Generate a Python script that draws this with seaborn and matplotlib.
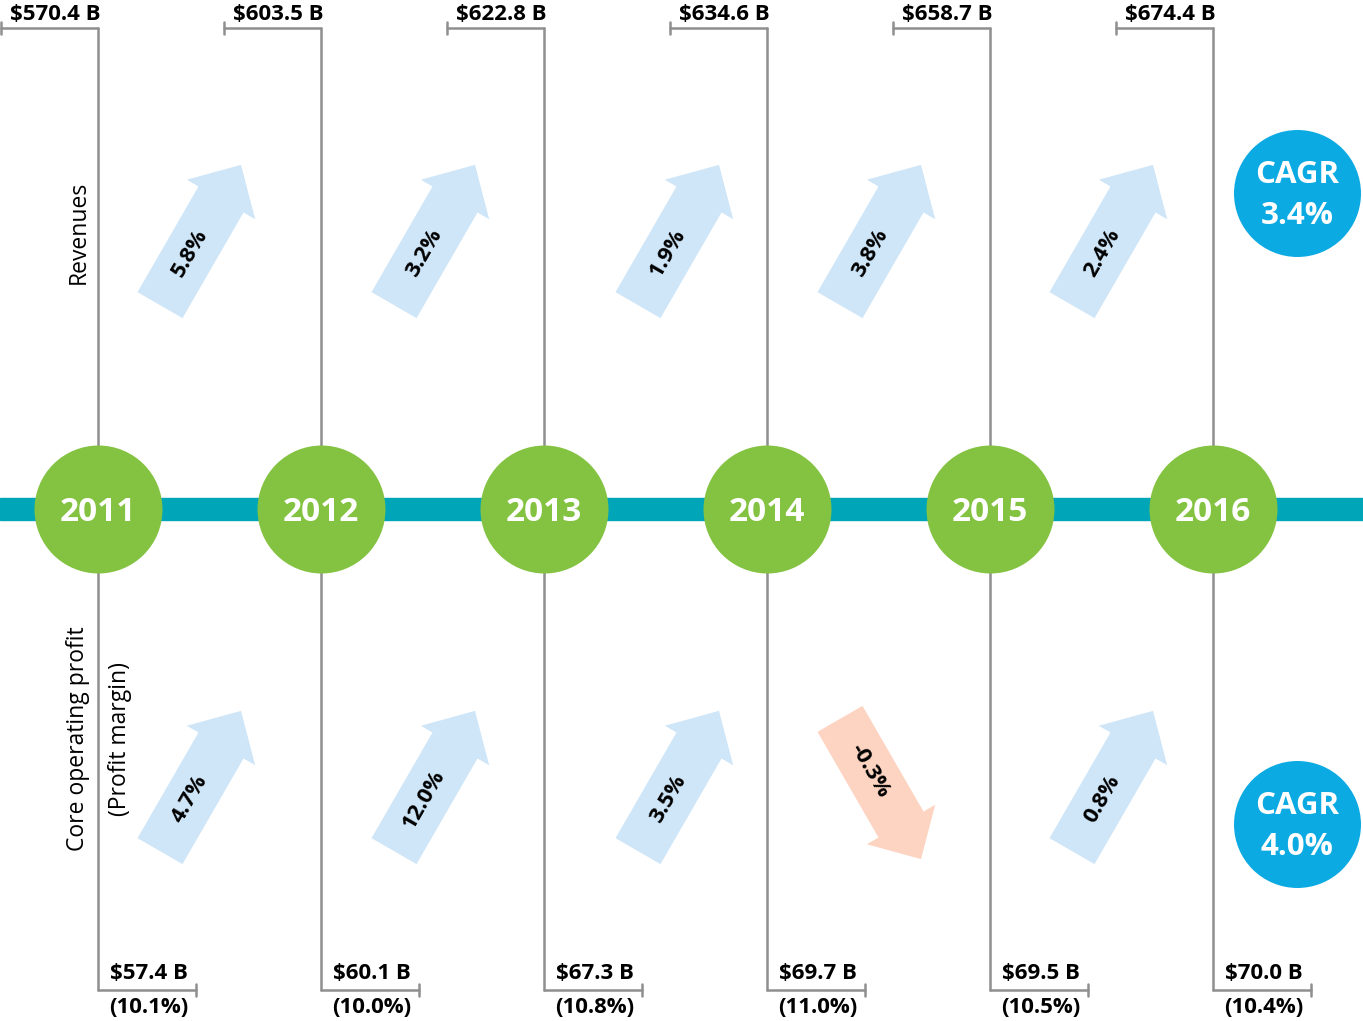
import matplotlib
matplotlib.use("Agg")
import matplotlib.pyplot as plt
from matplotlib.patches import FancyArrow
import numpy as np
import pandas as pd
import seaborn as sns

years = [2011, 2012, 2013, 2014, 2015, 2016]
revenue = [570.4, 603.5, 622.8, 634.6, 658.7, 674.4]
rev_growth = [5.8, 3.2, 1.9, 3.8, 2.4]
profit = [57.4, 60.1, 67.3, 69.7, 69.5, 70.0]
margin = [10.1, 10.0, 10.8, 11.0, 10.5, 10.4]
profit_growth = [4.7, 12.0, 3.5, -0.3, 0.8]
cagr_rev = 3.4
cagr_profit = 4.0

# layout (pixel coords)
W, H = 1363, 1021
x0, step, y_mid = 98, 223, 509
arrow_cx = [200.5, 434.5, 678.5, 880.5, 1112.5]

green = "#84C341"
teal = "#00A6B8"
blue = "#0BAAE3"
gray = "#8F8F8F"
up_col = "#CFE6F8"
down_col = "#FDD4C2"

sns.set_theme(style="white")
plt.rcParams["font.family"] = ["Open Sans", "DejaVu Sans"]
plt.rcParams["text.color"] = "black"

fig = plt.figure(figsize=(W / 100, H / 100), dpi=100)
ax = fig.add_axes([0, 0, 1, 1])

df = pd.DataFrame({"year": years, "revenue": revenue, "profit": profit, "margin": margin})
df["x"] = x0 + step * np.arange(len(df))
df["y"] = y_mid

# timeline bar
ax.axhspan(498, 520, color=teal, zorder=1)

# brackets + value labels
for _, r in df.iterrows():
    x = r["x"]
    ax.plot([x, x], [28, 990], color=gray, lw=1.8, zorder=0.5)
    ax.plot([x - 97, x], [28, 28], color=gray, lw=1.8)
    ax.plot([x - 97, x - 97], [22, 34], color=gray, lw=1.8)
    ax.plot([x, x + 98], [990, 990], color=gray, lw=1.8)
    ax.plot([x + 98, x + 98], [984, 996], color=gray, lw=1.8)
    ax.text(x - 43, 14, f"${r['revenue']:.1f} B", ha="center", va="center",
            fontsize=16, fontweight="bold", color="black")
    ax.text(x + 51, 973, f"${r['profit']:.1f} B", ha="center", va="center",
            fontsize=16, fontweight="bold", color="black")
    ax.text(x + 51, 1007, f"({r['margin']:.1f}%)", ha="center", va="center",
            fontsize=16, fontweight="bold", color="black")

# year circles
sns.scatterplot(data=df, x="x", y="y", s=8490, color=green, linewidth=0,
                ax=ax, zorder=3, legend=False)
for _, r in df.iterrows():
    ax.text(r["x"], y_mid + 3, str(int(r["year"])), ha="center", va="center",
            fontsize=24, fontweight="bold", color="white", zorder=4)


def draw_arrow(cx, cy, g):
    L = 162
    ang = np.deg2rad(60)
    if g >= 0:
        d = np.array([np.cos(ang), -np.sin(ang)])
        col, rot = up_col, 60
    else:
        d = np.array([np.cos(ang), np.sin(ang)])
        col, rot = down_col, -60
    tail = np.array([cx, cy]) - d * L / 2
    ax.add_patch(FancyArrow(tail[0], tail[1], d[0] * L, d[1] * L, width=52,
                            head_width=79, head_length=40,
                            length_includes_head=True, color=col, lw=0, zorder=2))
    t = np.array([cx, cy]) - d * 21
    ax.text(t[0], t[1], f"{g:.1f}%", rotation=rot, rotation_mode="anchor",
            ha="center", va="center", fontsize=16, fontweight="bold",
            color="black", zorder=3)


for cx, g in zip(arrow_cx, rev_growth):
    draw_arrow(cx, 235, g)
for cx, g in zip(arrow_cx, profit_growth):
    draw_arrow(cx, 781 if g >= 0 else 789, g)

# CAGR circles
cagr = pd.DataFrame({"x": [1297, 1297], "y": [193, 824], "v": [cagr_rev, cagr_profit]})
sns.scatterplot(data=cagr, x="x", y="y", s=8360, color=blue, linewidth=0,
                ax=ax, zorder=3, legend=False)
for _, r in cagr.iterrows():
    ax.text(r["x"], r["y"] - 18, "CAGR", ha="center", va="center",
            fontsize=22.5, fontweight="bold", color="white", zorder=4)
    ax.text(r["x"], r["y"] + 23, f"{r['v']:.1f}%", ha="center", va="center",
            fontsize=22.5, fontweight="bold", color="white", zorder=4)

# side labels
ax.text(79, 232, "Revenues", rotation=90, ha="center", va="center",
        fontsize=16.5, color="black")
ax.text(78, 739, "Core operating profit", rotation=90, ha="center", va="center",
        fontsize=16.5, color="black")
ax.text(120, 739, "(Profit margin)", rotation=90, ha="center", va="center",
        fontsize=16.5, color="black")

ax.set_xlim(0, W)
ax.set_ylim(H, 0)
ax.axis("off")

fig.savefig("out.png", dpi=100)
